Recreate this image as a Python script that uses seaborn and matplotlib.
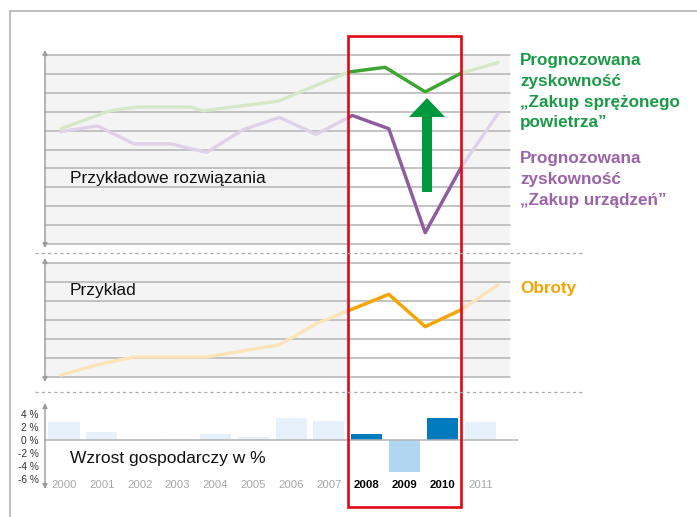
import numpy as np
import matplotlib
matplotlib.use('Agg')
import matplotlib.pyplot as plt
from matplotlib.patches import Rectangle, FancyArrow
import pandas as pd
import seaborn as sns

sns.set_style('white')
plt.rcParams['font.family'] = ['Liberation Sans', 'DejaVu Sans']

# data
years = ['2000', '2001', '2002', '2003', '2004', '2005',
         '2006', '2007', '2008', '2009', '2010', '2011']
gdp_growth = [2.7, 1.2, 0.0, 0.15, 0.9, 0.45, 3.4, 2.9, 0.9, -4.9, 3.4, 2.7]
highlight = ['2008', '2009', '2010']

green_x = [0, 1.35, 2.1, 3.55, 3.9, 5.95, 7.9, 8.9, 10, 11, 12]
green_y = [6.1, 7.05, 7.25, 7.25, 7.05, 7.55, 9.1, 9.35, 8.05, 9.05, 9.6]
purple_x = [0, 1, 2, 3, 4, 5, 6, 7, 8, 9, 10, 11, 12]
purple_y = [5.95, 6.25, 5.3, 5.3, 4.85, 6.05, 6.7, 5.8, 6.8, 6.1, 0.6, 4.1, 6.9]
orange_x = [0, 1, 2, 4, 6, 7, 9, 10, 11, 12]
orange_y = [0.1, 0.65, 1.05, 1.05, 1.7, 2.8, 4.35, 2.65, 3.55, 4.85]

bar_colors = ['#e6f1fb'] * 8 + ['#0079bd', '#b0d6f1', '#0079bd', '#e6f1fb']

W, H = 697, 517
fig = plt.figure(figsize=(W / 100, H / 100), dpi=100)

# pixel helpers
X0, DX = 64, 37.85      # bar index 0 at px 64
LX0, LDX = 61, 36.42    # line index 0 at px 61


def px_axes(l, t, r, b, **kw):
    return fig.add_axes([l / W, 1 - b / H, (r - l) / W, (b - t) / H], **kw)


def bar_unit(px):
    return (px - X0) / DX


def line_unit(px):
    return (px - LX0) / LDX


grid_col = '#b3b3b3'


def panel(t, b, n):
    ax = px_axes(45, t, 510, b)
    ax.set_facecolor('#f4f4f4')
    ax.set_xlim(bar_unit(45), bar_unit(510))
    ax.set_ylim(0, n)
    ax.axvspan(7.5, 10.5, color='white', zorder=0.5, lw=0)
    for k in range(n + 1):
        ax.axhline(k, color=grid_col, lw=1.1, zorder=1, clip_on=False)
    ax.set_xticks([])
    ax.set_yticks([])
    for s in ax.spines.values():
        s.set_visible(False)
    tw = ax.twiny()
    tw.set_xlim(line_unit(45), line_unit(510))
    tw.set_ylim(0, n)
    tw.set_xticks([])
    for s in tw.spines.values():
        s.set_visible(False)
    clip = Rectangle((7.5, -5), 3, n + 10, transform=ax.transData)
    return ax, tw, clip


def draw_line(tw, clip, x, y, light, dark):
    df = pd.DataFrame({'x': x, 'y': y})
    sns.lineplot(data=df, x='x', y='y', ax=tw, color=light, lw=2.4,
                 solid_capstyle='round', estimator=None, sort=False)
    sns.lineplot(data=df, x='x', y='y', ax=tw, color=dark, lw=2.4,
                 estimator=None, sort=False)
    tw.lines[-1].set_clip_path(clip)
    tw.set_xlabel('')
    tw.set_ylabel('')


# top panel
ax1, tw1, clip1 = panel(55, 244, 10)
draw_line(tw1, clip1, green_x, green_y, '#d5e8c8', '#3ea535')
draw_line(tw1, clip1, purple_x, purple_y, '#e0d1ea', '#8f5c9f')
tw1.set_yticks([])

# middle panel
ax2, tw2, clip2 = panel(263, 377, 6)
draw_line(tw2, clip2, orange_x, orange_y, '#fde3b8', '#f5a500')
tw2.set_yticks([])

# bottom bars
ax3 = px_axes(45, 403, 518, 488)
sns.barplot(x=years, y=gdp_growth, hue=years, palette=bar_colors, order=years,
            legend=False, width=0.82, saturation=1, linewidth=0, ax=ax3)
ax3.set_xlim(bar_unit(45), bar_unit(518))
ax3.set_ylim(-48 / 6.5, 37 / 6.5)
ax3.axhline(0, color=grid_col, lw=1.1, zorder=3)
ax3.set_facecolor('none')
ax3.set_xticks([])
ax3.set_yticks([4, 2, 0, -2, -4, -6])
ax3.set_yticklabels(['4 %', '2 %', '0 %', '-2 %', '-4 %', '-6 %'],
                    fontsize=7.3, color='#333333')
ax3.tick_params(axis='y', length=0, pad=4.5)
for s in ax3.spines.values():
    s.set_visible(False)
for i, yr in enumerate(years):
    hi = yr in highlight
    ax3.text(i, -6.9, yr, ha='center', va='center', fontsize=8.2,
             color='black' if hi else '#a8a8a8',
             fontweight='bold' if hi else 'normal')

# overlay in pixel coordinates
ov = fig.add_axes([0, 0, 1, 1], zorder=10)
ov.set_xlim(0, W)
ov.set_ylim(H, 0)
ov.axis('off')
ov.patch.set_alpha(0)

frame_col = '#b4b4b4'
ov.plot([10, W], [11, 11], color=frame_col, lw=1.2)
ov.plot([10, 10], [11, H], color=frame_col, lw=1.2)
for yy in (253, 392):
    ov.plot([35, 583], [yy, yy], color='#aaaaaa', lw=0.9, ls=(0, (2.5, 2.5)))

for top, bot in ((50, 248), (258, 382), (403, 489)):
    ov.annotate('', xy=(45, top), xytext=(45, bot),
                arrowprops=dict(arrowstyle='<|-|>', color='#9a9a9a', lw=1,
                                mutation_scale=7, shrinkA=0, shrinkB=0))

ov.add_patch(Rectangle((X0 + 7.5 * DX, 36), 3 * DX, 470.5, fill=False,
                       edgecolor='#e30613', lw=1.9))
ov.add_patch(FancyArrow(427, 192, 0, -94, width=10, head_width=36,
                        head_length=19, length_includes_head=True,
                        color='#00983f', lw=0))

ov.text(70, 179, 'Przykładowe rozwiązania', fontsize=12.5, va='center', color='#111111')
ov.text(70, 291, 'Przykład', fontsize=12.5, va='center', color='#111111')
ov.text(70, 458, 'Wzrost gospodarczy w %', fontsize=12.5, va='center', color='#111111')

legend_lines = dict(fontsize=12.3, fontweight='bold', va='center')
for k, s in enumerate(['Prognozowana', 'zyskowność',
                       '\u201eZakup sprężonego', 'powietrza\u201d']):
    ov.text(520, 61 + k * 20.6, s, color='#1b9a47', **legend_lines)
for k, s in enumerate(['Prognozowana', 'zyskowność', '\u201eZakup urządzeń\u201d']):
    ov.text(520, 159 + k * 20.6, s, color='#9b63a8', **legend_lines)
ov.text(520, 288, 'Obroty', color='#f5a500', **legend_lines)

fig.savefig('out.png', dpi=100)
